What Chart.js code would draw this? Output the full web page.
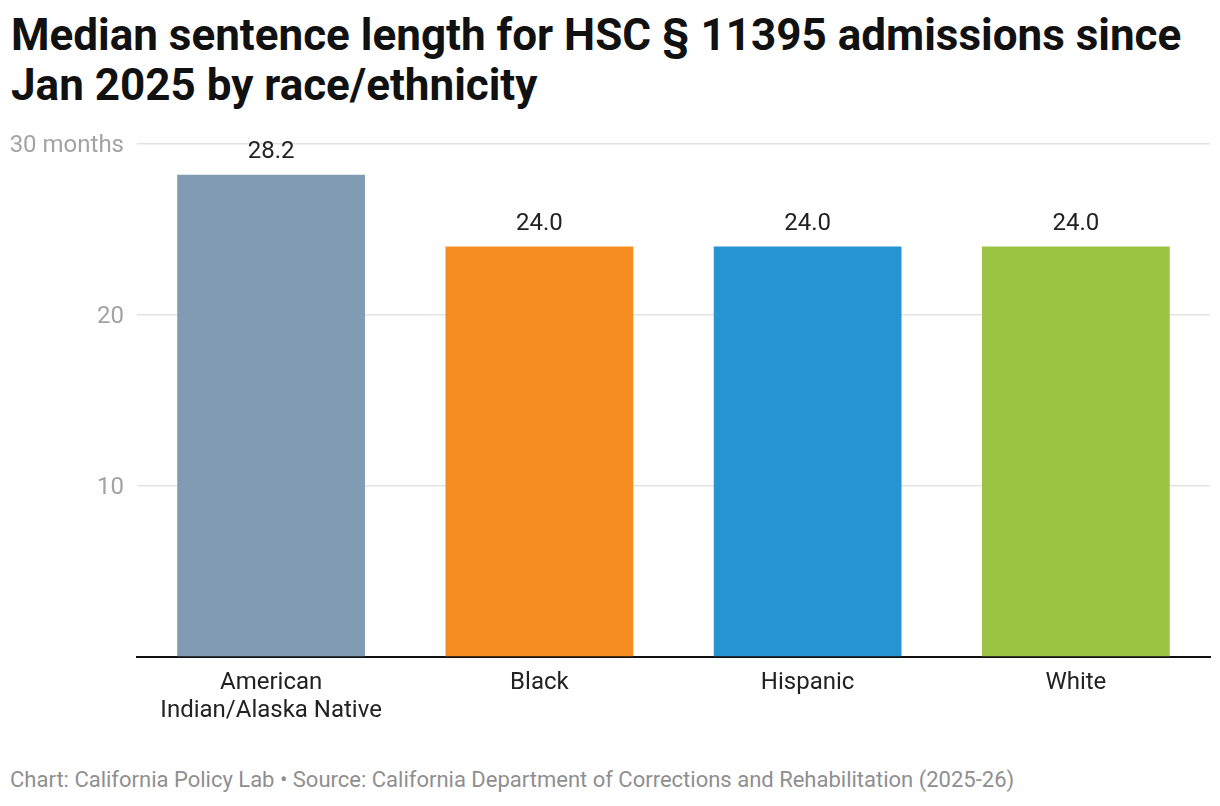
<!DOCTYPE html>
<html>
<head>
<meta charset="utf-8">
<script src="https://cdn.jsdelivr.net/npm/chart.js@4"></script>
<style>
  body { margin: 0; background: #fff; font-family: Roboto, sans-serif; }
  #wrap { position: relative; width: 1220px; height: 806px; overflow: hidden; }
  #title { position: absolute; left: 11px; top: 10px; width: 1205px; font-size: 44px; font-weight: 700; line-height: 50px; color: #111; white-space: nowrap; }
  #box { position: absolute; left: 0; top: 120px; width: 1220px; height: 620px; }
  #foot { position: absolute; left: 10px; top: 767px; font-size: 22px; color: #8f8f8f; white-space: nowrap; }
</style>
</head>
<body>
<div id="wrap">
  <div id="title">Median sentence length for HSC § 11395 admissions since<br>Jan 2025 by race/ethnicity</div>
  <div id="box"><canvas id="myChart"></canvas></div>
  <div id="foot">Chart: California Policy Lab • Source: California Department of Corrections and Rehabilitation (2025-26)</div>
</div>
<script>
const grupos = [["American", "Indian/Alaska Native"], "Black", "Hispanic", "White"];
const medianas = [28.2, 24.0, 24.0, 24.0];
const colores = ["#809bb2", "#f68d20", "#2693d3", "#9cc442"];
const ticksY = [0, 10, 20, 30];

const etiquetas = {
  id: 'etiquetas',
  afterDatasetsDraw(chart) {
    const ctx = chart.ctx;
    const meta = chart.getDatasetMeta(0);
    ctx.save();
    ctx.font = '24px Roboto';
    ctx.fillStyle = '#222';
    ctx.textAlign = 'center';
    ctx.textBaseline = 'middle';
    meta.data.forEach((bar, i) => {
      ctx.fillText(medianas[i].toFixed(1), bar.x, bar.y - 23);
    });
    ctx.restore();
  }
};

const ctx = document.getElementById('myChart');

new Chart(ctx, {
  type: 'bar',
  data: {
    labels: grupos,
    datasets: [{
      data: medianas,
      backgroundColor: colores,
      categoryPercentage: 1,
      barPercentage: 0.7
    }]
  },
  options: {
    responsive: true,
    maintainAspectRatio: false,
    animation: false,
    layout: { padding: { left: 10, right: 10, top: 24, bottom: 0 } },
    plugins: { legend: { display: false }, tooltip: { enabled: false } },
    scales: {
      x: {
        grid: { display: false, drawTicks: false },
        border: { color: '#111', width: 2 },
        ticks: { color: '#222', font: { family: 'Roboto', size: 24, lineHeight: 1.17 }, padding: 12, maxRotation: 0 },
        afterFit(scale) { scale.height = 83; }
      },
      y: {
        min: 0,
        max: 30,
        afterBuildTicks(scale) { scale.ticks = ticksY.map(v => ({ value: v })); },
        grid: { color: '#e3e3e3', lineWidth: 1.5, drawTicks: false },
        border: { display: false },
        ticks: {
          color: '#a3a3a3',
          font: { family: 'Roboto', size: 24 },
          padding: 13,
          labelOffset: 2,
          callback: (v) => v === 0 ? '' : (v === 30 ? '30 months' : v)
        },
        afterFit(scale) {
          scale.width = 127;
          scale.paddingTop = 0;
          scale.paddingBottom = 0;
        }
      }
    }
  },
  plugins: [etiquetas]
});
</script>
</body>
</html>
